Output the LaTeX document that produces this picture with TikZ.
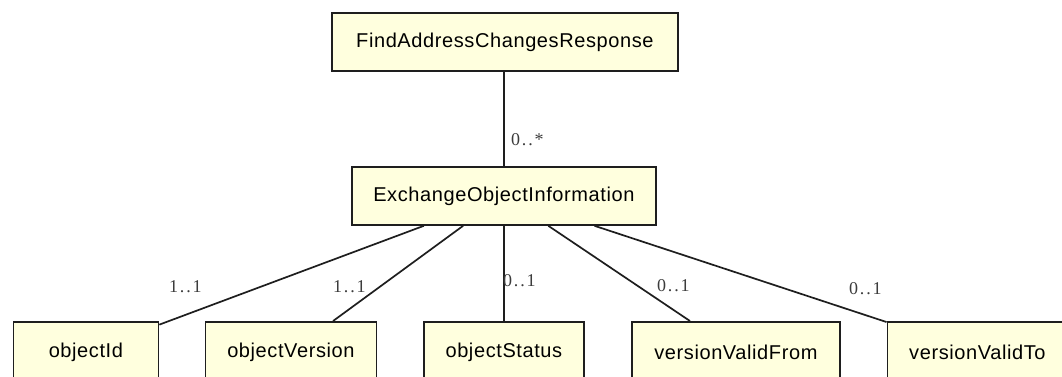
\documentclass[tikz,border=0pt]{standalone}
\usepackage{fontspec}
\setmainfont{Liberation Sans}
\newfontfamily\boxfont[LetterSpace=3]{Liberation Sans}
\newfontfamily\lblfont[LetterSpace=10]{Liberation Serif}
\definecolor{boxfill}{HTML}{FFFFDE}
\definecolor{edge}{HTML}{1E1E1E}
\definecolor{lbl}{HTML}{3C3C3C}
\tikzset{
  umlbox/.style={draw=edge, line width=1.8pt, fill=boxfill, inner sep=0pt,
    anchor=north west, font=\boxfont\fontsize{20}{24}\selectfont},
  conn/.style={draw=edge, line width=1.7pt},
  mult/.style={anchor=base west, inner sep=0pt, text=lbl,
    font=\lblfont\fontsize{18}{22}\selectfont}
}
\begin{document}
\begin{tikzpicture}[x=1pt,y=-1pt]
\useasboundingbox (0,0) rectangle (1062,377);
\clip (0,0) rectangle (1062,377);
\fill[white] (0,0) rectangle (1062,377);
\node[umlbox, minimum width=346pt, minimum height=58pt] (resp) at (331,12) {FindAddressChangesResponse};
\node[umlbox, minimum width=304pt, minimum height=58pt] (info) at (351,166) {ExchangeObjectInformation};
\node[umlbox, minimum width=145pt, minimum height=60pt] (oid) at (12.5,321) {objectId};
\node[umlbox, minimum width=171pt, minimum height=60pt] (over) at (204.5,321) {objectVersion};
\node[umlbox, minimum width=160pt, minimum height=60pt] (ostat) at (423,321) {objectStatus};
\node[umlbox, minimum width=208pt, minimum height=60pt] (vfrom) at (631,321) {versionValidFrom};
\node[umlbox, minimum width=180pt, minimum height=60pt] (vto) at (886.5,321) {versionValidTo};
\draw[conn] (resp.south -| info.center) -- (info);
\draw[conn] (info) -- (oid);
\draw[conn] (info) -- (over);
\draw[conn] (info.south -| ostat.center) -- (ostat);
\draw[conn] (info) -- (vfrom);
\draw[conn] (info) -- (vto);
\node[mult] (m0) at (511,145) {0..*};
\node[mult] (m1) at (169,292) {1..1};
\node[mult] (m2) at (333,292) {1..1};
\node[mult] (m3) at (503,286) {0..1};
\node[mult] (m4) at (657,291) {0..1};
\node[mult] (m5) at (849,294) {0..1};
\end{tikzpicture}
\end{document}
